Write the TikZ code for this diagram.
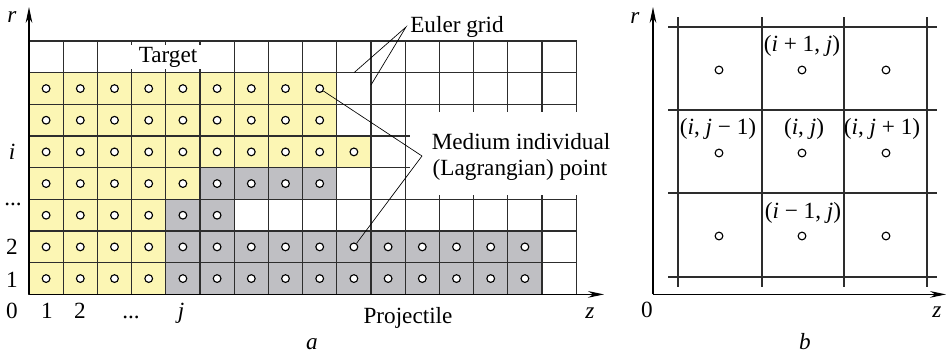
\documentclass[tikz,border=0pt]{standalone}
\usepackage{fontspec}
\setmainfont{Liberation Serif}
\usetikzlibrary{arrows.meta}
\definecolor{cyel}{RGB}{252,246,180}
\definecolor{cgray}{RGB}{191,191,195}
\definecolor{cline}{RGB}{45,45,45}
\begin{document}
\begin{tikzpicture}[x=0.75pt,y=-0.75pt,
  font=\fontsize{17.4}{20}\selectfont,
  gridline/.style={draw=cline, line width=0.9pt},
  ycell/.style={gridline, fill=cyel},
  gcell/.style={gridline, fill=cgray},
  wcell/.style={gridline, fill=white},
  dot/.style={circle, draw=black, fill=white, line width=0.85pt, inner sep=0pt, minimum size=5.8pt},
  axis/.style={draw=black, line width=0.9pt, -{Stealth[length=12pt,width=5pt]}},
  leader/.style={draw=black, line width=0.5pt},
  lab/.style={anchor=base, inner sep=0pt}]
\useasboundingbox (0,0) rectangle (947,354);

% ---------------- panel a ----------------
\begin{scope}[shift={(29,294.4)}, x=25.65pt, y=23.75pt]
  % yellow cells (medium)
  \foreach \r in {1,2,3} \foreach \c in {1,...,4} \draw[ycell] (\c-1,\r-1) rectangle (\c,\r);
  \foreach \c in {1,...,5} \draw[ycell] (\c-1,3) rectangle (\c,4);
  \foreach \c in {1,...,10} \draw[ycell] (\c-1,4) rectangle (\c,5);
  \foreach \r in {6,7} \foreach \c in {1,...,9} \draw[ycell] (\c-1,\r-1) rectangle (\c,\r);
  % gray cells (projectile)
  \foreach \r in {1,2} \foreach \c in {5,...,15} \draw[gcell] (\c-1,\r-1) rectangle (\c,\r);
  \foreach \c in {5,6} \draw[gcell] (\c-1,2) rectangle (\c,3);
  \foreach \c in {6,...,9} \draw[gcell] (\c-1,3) rectangle (\c,4);
  % empty cells
  \foreach \r in {1,2} \draw[wcell] (15,\r-1) rectangle (16,\r);
  \foreach \c in {7,...,16} \draw[wcell] (\c-1,2) rectangle (\c,3);
  \foreach \r in {4,6} \foreach \c in {10,11} \draw[wcell] (\c-1,\r-1) rectangle (\c,\r);
  \draw[wcell] (10,4) rectangle (11,5);
  \foreach \c in {10,...,16} \draw[wcell] (\c-1,6) rectangle (\c,7);
  \foreach \c in {1,...,16} \draw[wcell] (\c-1,7) rectangle (\c,8);
  % short extensions of the grid lines
  \foreach \c in {12,...,16} \draw[gridline] (\c,6) -- (\c,5.77);
  \foreach \c in {12,...,16} \draw[gridline] (\c,3) -- (\c,3.14);
  \foreach \r in {4,5} \draw[gridline] (11,\r) -- (11.15,\r);
  % Lagrangian points
  \foreach \r in {1,2,3} \foreach \c in {1,...,4} \node[dot] (d-\c-\r) at (\c-0.5,\r-0.5) {};
  \foreach \c in {1,...,5} \node[dot] (d-\c-4) at (\c-0.5,3.5) {};
  \foreach \c in {1,...,10} \node[dot] (d-\c-5) at (\c-0.5,4.5) {};
  \foreach \r in {6,7} \foreach \c in {1,...,9} \node[dot] (d-\c-\r) at (\c-0.5,\r-0.5) {};
  \foreach \r in {1,2} \foreach \c in {5,...,15} \node[dot] (d-\c-\r) at (\c-0.5,\r-0.5) {};
  \foreach \c in {5,6} \node[dot] (d-\c-3) at (\c-0.5,2.5) {};
  \foreach \c in {6,...,9} \node[dot] (d-\c-4) at (\c-0.5,3.5) {};
\end{scope}

\node[lab, fill=white, inner xsep=5.5pt, inner ysep=1.6pt] (target) at (168,62) {Target};

% axes a
\coordinate (Oa) at (29,294.4);
\coordinate (ra) at (29,7);
\coordinate (za) at (604,294.4);
\draw[axis] (Oa) -- (ra);
\draw[axis] (Oa) -- (za);

% labels a
\node[lab] (lra) at (12,22) {\textit{r}};
\node[lab] (li) at (12,159) {\textit{i}};
\node[lab] (ldv) at (13,205) {...};
\node[lab] (l2v) at (12,254) {2};
\node[lab] (l1v) at (12,287) {1};
\node[lab] (l0a) at (12,318) {0};
\node[lab] (l1h) at (47,318) {1};
\node[lab] (l2h) at (80,318) {2};
\node[lab] (ldh) at (131,318) {...};
\node[lab] (lj) at (181,318) {\textit{j}};
\node[lab] (proj) at (408,323) {Projectile};
\node[lab] (lza) at (590,318) {\textit{z}};
\node[lab] (la) at (312,349) {\textit{a}};

\node[lab] (euler) at (457,32) {Euler grid};
\coordinate (eg) at (406,27);
\coordinate (eg1) at (354,72.7);
\coordinate (eg2) at (371,85);
\draw[leader] (eg1) -- (eg) -- (eg2);

\node[lab] (med1) at (521,149) {Medium individual};
\node[lab] (med2) at (520,175) {(Lagrangian) point};
\coordinate (mp) at (422,156);
\draw[leader] (d-9-7) -- (mp) -- (d-10-2);

% ---------------- panel b ----------------
\foreach \x in {678,762,844,927} \draw[gridline] (\x,17) -- (\x,287);
\foreach \y in {27,110,193,277} \draw[gridline] (668,\y) -- (937,\y);
\foreach \x/\i in {719/1,802/2,886/3} \foreach \y/\j in {70/1,153/2,236/3}
  \node[dot] (b-\i-\j) at (\x,\y) {};

\coordinate (Ob) at (653,294.4);
\coordinate (rb) at (653,7);
\coordinate (zb) at (946,294.4);
\draw[axis] (Ob) -- (rb);
\draw[axis] (Ob) -- (zb);

\node[lab] (lrb) at (635,23) {\textit{r}};
\node[lab] (l0b) at (647,317) {0};
\node[lab] (lzb) at (937,317) {\textit{z}};
\node[lab] (lb) at (805,349) {\textit{b}};

\node[lab] (nip) at (802,51) {(\textit{i} + 1, \textit{j})};
\node[lab] (njm) at (718,134) {(\textit{i}, \textit{j} − 1)};
\node[lab] (nij) at (804,134) {(\textit{i}, \textit{j})};
\node[lab] (njp) at (882,134) {(\textit{i}, \textit{j} + 1)};
\node[lab] (nim) at (803,218) {(\textit{i} − 1, \textit{j})};
\end{tikzpicture}
\end{document}
